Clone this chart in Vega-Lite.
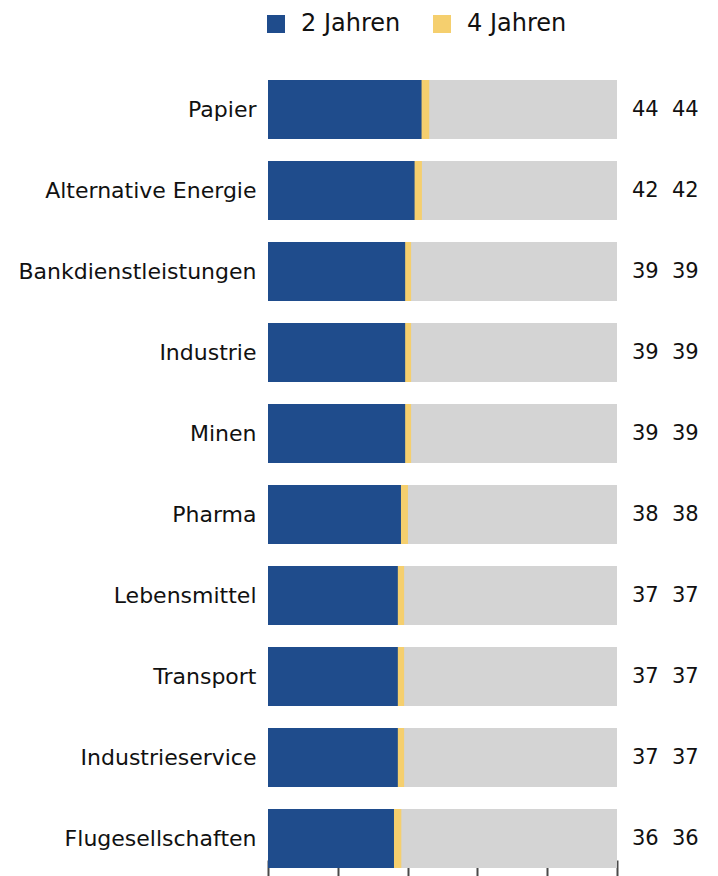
{
  "$schema": "https://vega.github.io/schema/vega-lite/v6.json",
  "autosize": {"type": "none"},
  "padding": {"left": 268, "top": 69, "right": 101, "bottom": 0},
  "width": 349,
  "height": 810,
  "background": "white",
  "view": {"stroke": null},
  "data": {
    "values": [
      {"Sektor": "Papier", "zwei": 44, "vier": 44, "gelb": 46.2, "gesamt": 100},
      {"Sektor": "Alternative Energie", "zwei": 42, "vier": 42, "gelb": 44.1, "gesamt": 100},
      {"Sektor": "Bankdienstleistungen", "zwei": 39.3, "vier": 39, "gelb": 41.0, "gesamt": 100},
      {"Sektor": "Industrie", "zwei": 39.3, "vier": 39, "gelb": 41.0, "gesamt": 100},
      {"Sektor": "Minen", "zwei": 39.3, "vier": 39, "gelb": 41.0, "gesamt": 100},
      {"Sektor": "Pharma", "zwei": 38.1, "vier": 38, "gelb": 40.1, "gesamt": 100},
      {"Sektor": "Lebensmittel", "zwei": 37.2, "vier": 37, "gelb": 39.0, "gesamt": 100},
      {"Sektor": "Transport", "zwei": 37.2, "vier": 37, "gelb": 39.0, "gesamt": 100},
      {"Sektor": "Industrieservice", "zwei": 37.2, "vier": 37, "gelb": 39.0, "gesamt": 100},
      {"Sektor": "Flugesellschaften", "zwei": 36.1, "vier": 36, "gelb": 38.2, "gesamt": 100}
    ]
  },
  "encoding": {
    "y": {
      "field": "Sektor",
      "type": "nominal",
      "sort": null,
      "title": null,
      "scale": {"paddingInner": 0.27, "paddingOuter": 0.135},
      "axis": {
        "domain": false,
        "ticks": false,
        "labelPadding": 12,
        "labelFont": "DejaVu Sans",
        "labelFontSize": 22,
        "labelColor": "#111111",
        "labelLimit": 400
      }
    }
  },
  "layer": [
    {
      "mark": {"type": "bar", "color": "#D4D4D4"},
      "encoding": {
        "x": {
          "field": "gesamt",
          "type": "quantitative",
          "title": null,
          "scale": {"domain": [0, 100], "nice": false},
          "axis": {
            "values": [0, 20, 40, 60, 80, 100],
            "labels": false,
            "grid": false,
            "domain": false,
            "tickSize": 20,
            "tickWidth": 2,
            "tickColor": "#4a4a4a",
            "offset": -19
          }
        }
      }
    },
    {
      "mark": {"type": "bar"},
      "encoding": {
        "x": {"field": "gelb", "type": "quantitative"},
        "color": {
          "datum": "4 Jahren",
          "type": "nominal",
          "scale": {"domain": ["2 Jahren", "4 Jahren"], "range": ["#1F4C8C", "#F5CF6E"]},
          "legend": {
            "orient": "none",
            "legendX": -4,
            "legendY": -57,
            "direction": "horizontal",
            "title": null,
            "padding": 0,
            "symbolType": "square",
            "symbolSize": 324,
            "symbolStrokeWidth": 0,
            "labelFont": "DejaVu Sans",
            "labelFontSize": 24,
            "labelColor": "#111111",
            "labelOffset": 13,
            "columnPadding": 29
          }
        }
      }
    },
    {
      "mark": {"type": "bar"},
      "encoding": {
        "x": {"field": "zwei", "type": "quantitative"},
        "color": {"datum": "2 Jahren", "type": "nominal"}
      }
    },
    {
      "mark": {"type": "text", "align": "left", "baseline": "middle", "dx": 15, "font": "DejaVu Sans", "fontSize": 21, "color": "#111111"},
      "encoding": {
        "x": {"datum": 100},
        "text": {"field": "vier", "type": "quantitative", "format": ".0f"}
      }
    },
    {
      "mark": {"type": "text", "align": "left", "baseline": "middle", "dx": 55, "font": "DejaVu Sans", "fontSize": 21, "color": "#111111"},
      "encoding": {
        "x": {"datum": 100},
        "text": {"field": "vier", "type": "quantitative", "format": ".0f"}
      }
    }
  ]
}
